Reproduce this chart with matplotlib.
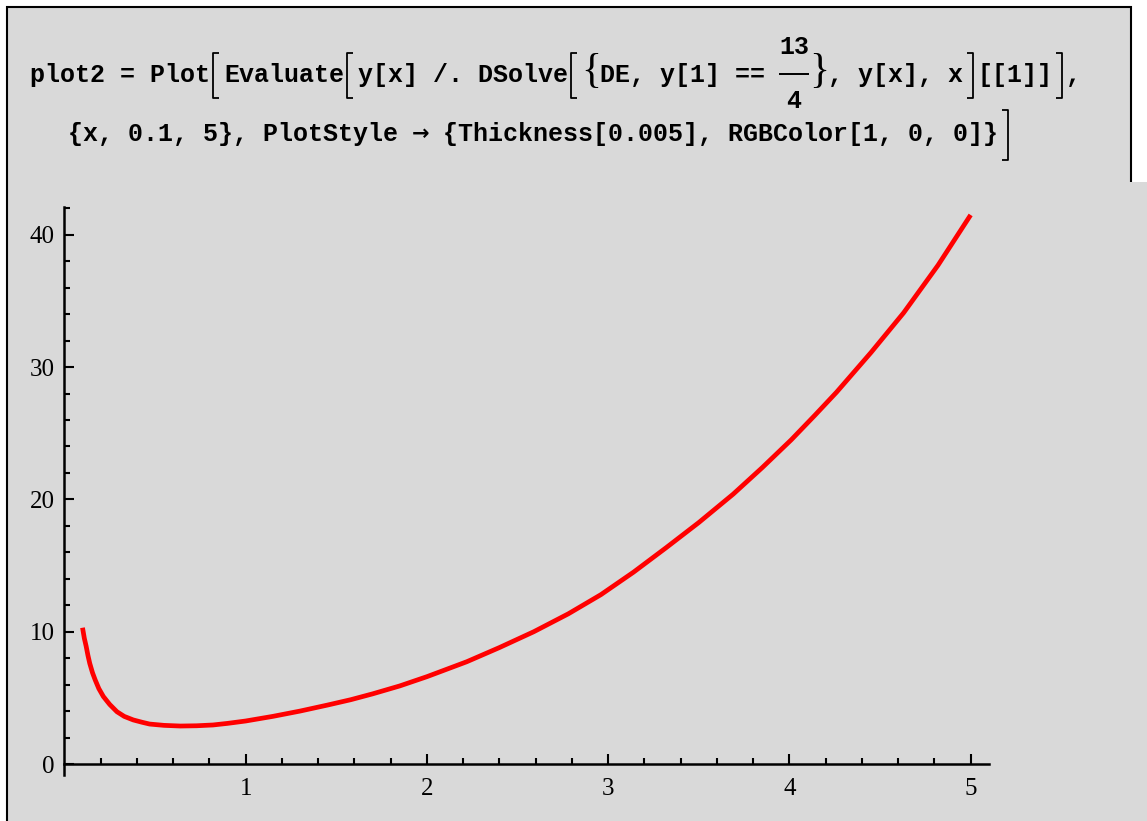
import matplotlib.pyplot as plt
import matplotlib.transforms as mtransforms
from matplotlib.lines import Line2D
from matplotlib.patches import Rectangle
from matplotlib.ticker import FixedLocator

# curve
x_vals = [0.1, 0.11, 0.12, 0.13, 0.14, 0.155, 0.17, 0.19, 0.215, 0.25, 0.29,
          0.33, 0.38, 0.43, 0.47, 0.55, 0.64, 0.73, 0.82, 0.9, 1.0, 1.15, 1.3,
          1.45, 1.58, 1.7, 1.85, 2.0, 2.22, 2.4, 2.59, 2.78, 2.96, 3.14, 3.32,
          3.5, 3.69, 3.85, 4.01, 4.14, 4.26, 4.45, 4.63, 4.82, 5.0]
y_vals = [10.3, 9.5, 8.9, 8.2, 7.6, 6.9, 6.35, 5.7, 5.1, 4.5, 3.95,
          3.6, 3.33, 3.15, 3.02, 2.92, 2.87, 2.89, 2.95, 3.07, 3.25, 3.6, 4.0,
          4.45, 4.86, 5.3, 5.9, 6.6, 7.73, 8.8, 10.0, 11.35, 12.8, 14.5, 16.35,
          18.25, 20.4, 22.4, 24.5, 26.35, 28.1, 31.1, 34.1, 37.7, 41.5]

x_ticks = [1, 2, 3, 4, 5]
y_ticks = [0, 10, 20, 30, 40]
x_minor = [i / 5 for i in range(1, 25) if i % 5]
y_minor = [i for i in range(2, 43, 2) if i % 10]

line1 = ["plot2 = Plot", "[", "Evaluate", "[", "y[x] /. DSolve", "[", "{",
         "DE, y[1] == ", "13/4", "}", ", y[x], x", "]", "[[1]]", "]", ","]
line2 = ["{x, 0.1, 5}, PlotStyle ", "\u2192", " {Thickness[0.005], RGBColor[1, 0, 0]}", "]"]

W, H = 1147, 821
GRAY = "#d9d9d9"

fig = plt.figure(figsize=(W / 100, H / 100), dpi=100, facecolor=GRAY)
px = mtransforms.IdentityTransform()


def frect(x0, y0, x1, y1, color):
    # rectangle in pixel coords measured from the top-left
    fig.add_artist(Rectangle((x0, H - y1), x1 - x0, y1 - y0, transform=px,
                             facecolor=color, edgecolor="none", zorder=0))


def fline(xs, ys, lw=1.5):
    fig.add_artist(Line2D(xs, [H - v for v in ys], transform=px, color="black",
                          lw=lw, solid_capstyle="butt", zorder=3))


# white margins and cell frame
frect(0, 0, W, 6, "white")
frect(0, 0, 6, H, "white")
frect(1132, 0, W, 182, "white")
fline([6, 1132], [7, 7])
fline([7, 7], [6, H])
fline([1131, 1131], [6, 182])

mono = dict(family="Liberation Mono", weight="bold", size=18, color="black")
cw = 15.0  # advance of one mono char in px


def bracket(x, top, bot, side):
    hook = 6 if side == "[" else -6
    fline([x + hook, x, x, x + hook], [top, top, bot, bot], lw=1.3)


def brace(x, yc, s):
    fig.text(x, H - yc, s, transform=px, family="Liberation Serif",
             size=30, va="center", ha="center", color="black")


def layout(parts, x, yc, top, bot):
    for s in parts:
        if s in ("[", "]"):
            bracket(x + (3 if s == "[" else 10), top, bot, s)
            x += 14
        elif s in ("{", "}"):
            brace(x + 9, yc - 3, s)
            x += 18
        elif s == "\u2192":
            fig.text(x + cw / 2, H - yc, s, transform=px, family="DejaVu Sans",
                     weight="bold", size=15, ha="center", va="center")
            x += cw
        elif s == "13/4":
            cx = x + 14
            fig.text(cx, H - 47, "13", transform=px, ha="center", va="center", **mono)
            fig.text(cx, H - 101, "4", transform=px, ha="center", va="center", **mono)
            fline([cx - 15, cx + 15], [74, 74], lw=1.4)
            x += 30
        else:
            fig.text(x, H - yc, s, transform=px, ha="left", va="center", **mono)
            x += cw * len(s)
    return x


layout(line1, 30, 75, 53, 98)
layout(line2, 68, 134, 110, 160)

# plot area: origin at px (64.4, 764), 181.25 px per x unit, 13.23 px per y unit
ox, oy, sx, sy = 64.4, 764.0, 181.25, 13.23
left, right, top, bottom = 20, 1000, 195, 805
ax = fig.add_axes([left / W, (H - bottom) / H, (right - left) / W, (bottom - top) / H])
ax.set_facecolor("none")
ax.set_xlim((left - ox) / sx, (right - ox) / sx)
ax.set_ylim((oy - bottom) / sy, (oy - top) / sy)

ax.plot(x_vals, y_vals, color="red", lw=3.4, solid_capstyle="butt",
        solid_joinstyle="round")

for side in ("top", "right"):
    ax.spines[side].set_visible(False)
ax.spines["left"].set_position(("data", 0))
ax.spines["bottom"].set_position(("data", 0))
ax.spines["left"].set_bounds(-0.8, 42.1)
ax.spines["bottom"].set_bounds(0, 5.1)
for side in ("left", "bottom"):
    ax.spines[side].set_linewidth(1.8)

ax.xaxis.set_major_locator(FixedLocator(x_ticks))
ax.xaxis.set_minor_locator(FixedLocator(x_minor))
ax.yaxis.set_major_locator(FixedLocator(y_ticks))
ax.yaxis.set_minor_locator(FixedLocator(y_minor))
ax.tick_params(which="both", direction="in", width=1.5, color="black")
ax.tick_params(which="major", length=7.5)
ax.tick_params(which="minor", length=4.5)
ax.tick_params(axis="x", which="major", pad=10)
ax.tick_params(axis="y", which="major", pad=7)
for lab in ax.get_xticklabels() + ax.get_yticklabels():
    lab.set_fontfamily("Liberation Serif")
    lab.set_fontsize(18)

fig.savefig("out.png", dpi=100, facecolor=GRAY)
